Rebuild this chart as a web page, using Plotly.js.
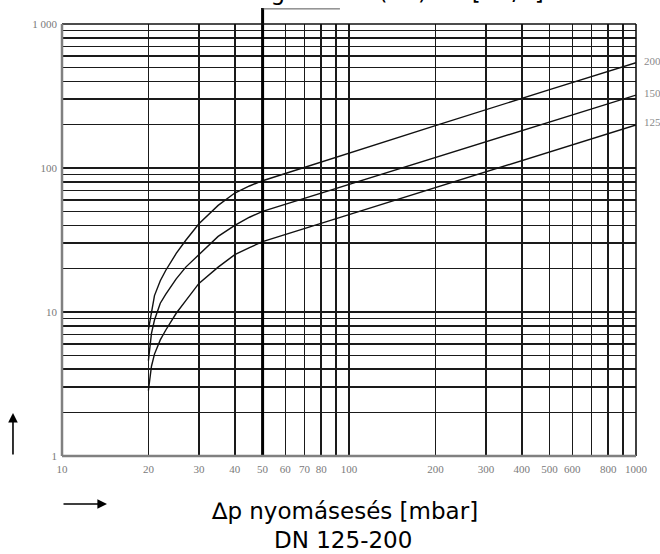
<!DOCTYPE html>
<html>
<head>
<meta charset="utf-8">
<script src="https://cdn.plot.ly/plotly-3.0.1.min.js"></script>
<style>html,body{margin:0;padding:0;background:#fff;}#chart{width:660px;height:554px;}</style>
</head>
<body>
<div id="chart"></div>
<script>
// ---- data ----
const pressureDrop = [20, 20.5, 21, 22, 23, 25, 27, 30, 35, 40, 45, 50, 100, 200, 500, 1000];
const flowDN200 = [7.5, 10.3, 13, 16.5, 19.5, 25.5, 31.5, 41, 55, 67, 75, 81.6, 126, 197, 350, 539];
const flowDN150 = [4.6, 7.1, 8.8, 11.5, 13.3, 17, 20.5, 25, 33.5, 40, 45.5, 50, 77, 118, 210, 321];
const flowDN125 = [2.85, 4.2, 5.1, 6.4, 7.5, 9.8, 12, 15.8, 20.5, 25, 28, 30.8, 47.5, 73, 129, 199];
const curveNames = ["200", "150", "125"];

const xGridVals = [10,20,30,40,50,60,70,80,90,100,200,300,400,500,600,700,800,900,1000];
const xGridText = ["10","20","30","40","50","60","70","80","","100","200","300","400","500","600","","800","","1000"];
const yGridVals = [1,2,3,4,5,6,7,8,9,10,20,30,40,50,60,70,80,90,100,200,300,400,500,600,700,800,900,1000];
const yGridText = ["1","","","","","","","","","10","","","","","","","","","100","","","","","","","","","1 000"];

const titleTop = "Földgázáram (Vn) Vn [m³/h]";
const xTitle1 = "∆p nyomásesés [mbar]";
const xTitle2 = "DN 125-200";

// ---- chart ----
const lineStyle = {color: "#111", width: 1.4};
const series = [flowDN200, flowDN150, flowDN125];
const traces = series.map((ys, i) => ({
  x: pressureDrop, y: ys, type: "scatter", mode: "lines",
  line: lineStyle, name: curveNames[i], hoverinfo: "skip"
}));

const tickFont = {family: "Liberation Serif, serif", size: 11, color: "#7a7a7a"};
const mainFont = {family: "DejaVu Sans, sans-serif", size: 23, color: "#000"};

const labelY = [0.914, 0.840, 0.773];
const annotations = curveNames.map((n, i) => ({
  xref: "paper", yref: "paper", x: 1.0105, y: labelY[i], xanchor: "left", yanchor: "middle",
  text: n, showarrow: false, font: {family: "Liberation Serif, serif", size: 11, color: "#8a8a8a"}
}));
annotations.push(
  {xref: "paper", yref: "paper", x: 0.56, y: 1.074, xanchor: "center", yanchor: "middle",
   text: titleTop, showarrow: false, font: mainFont},
  {xref: "paper", yref: "paper", x: 0.493, y: -0.1273, xanchor: "center", yanchor: "middle",
   text: xTitle1, showarrow: false, font: mainFont},
  {xref: "paper", yref: "paper", x: 0.490, y: -0.1944, xanchor: "center", yanchor: "middle",
   text: xTitle2, showarrow: false, font: mainFont},
  {xref: "paper", yref: "paper", x: -0.0854, y: 0.0995, ax: 0, ay: 43, axref: "pixel", ayref: "pixel",
   text: "", showarrow: true, arrowhead: 2, arrowsize: 1.2, arrowwidth: 1.6, arrowcolor: "#000"},
  {xref: "paper", yref: "paper", x: 0.0784, y: -0.111, ax: -45, ay: 0,
   text: "", showarrow: true, arrowhead: 2, arrowsize: 1.2, arrowwidth: 1.6, arrowcolor: "#000"}
);

const shapes = [
  // thick line at 50 mbar, running above the frame
  {type: "line", xref: "x", yref: "paper", x0: 50, x1: 50, y0: 0, y1: 1.037, line: {color: "#000", width: 3}, layer: "above"},
  {type: "line", xref: "x", yref: "paper", x0: 50, x1: 93, y0: 1.035, y1: 1.035, line: {color: "#555", width: 1}, layer: "above"},
  // frame
  {type: "line", xref: "paper", yref: "paper", x0: 0, x1: 1, y0: 1, y1: 1, line: {color: "#111", width: 1.6}, layer: "above"},
  {type: "line", xref: "paper", yref: "paper", x0: 1, x1: 1, y0: 0, y1: 1, line: {color: "#111", width: 1.6}, layer: "above"},
  {type: "line", xref: "paper", yref: "paper", x0: 0, x1: 0, y0: 0, y1: 1, line: {color: "#808080", width: 2.5}, layer: "above"},
  {type: "line", xref: "paper", yref: "paper", x0: 0, x1: 1, y0: 0, y1: 0, line: {color: "#808080", width: 2.5}, layer: "above"}
];

const layout = {
  width: 660, height: 554,
  margin: {l: 62, r: 24, t: 24, b: 98, pad: 0},
  paper_bgcolor: "#fff", plot_bgcolor: "#fff",
  showlegend: false,
  xaxis: {
    type: "log", range: [1, 3], tickmode: "array", tickvals: xGridVals, ticktext: xGridText,
    showgrid: true, gridcolor: "#1a1a1a", gridwidth: 1.6, zeroline: false, showline: false,
    ticks: "", tickfont: tickFont, ticklabelstandoff: 5, fixedrange: true
  },
  yaxis: {
    type: "log", range: [0, 3], tickmode: "array", tickvals: yGridVals, ticktext: yGridText,
    showgrid: true, gridcolor: "#1a1a1a", gridwidth: 1.6, zeroline: false, showline: false,
    ticks: "", tickfont: tickFont, ticklabelstandoff: 4, fixedrange: true
  },
  annotations: annotations,
  shapes: shapes
};

Plotly.newPlot("chart", traces, layout, {staticPlot: true, displayModeBar: false});
</script>
</body>
</html>
